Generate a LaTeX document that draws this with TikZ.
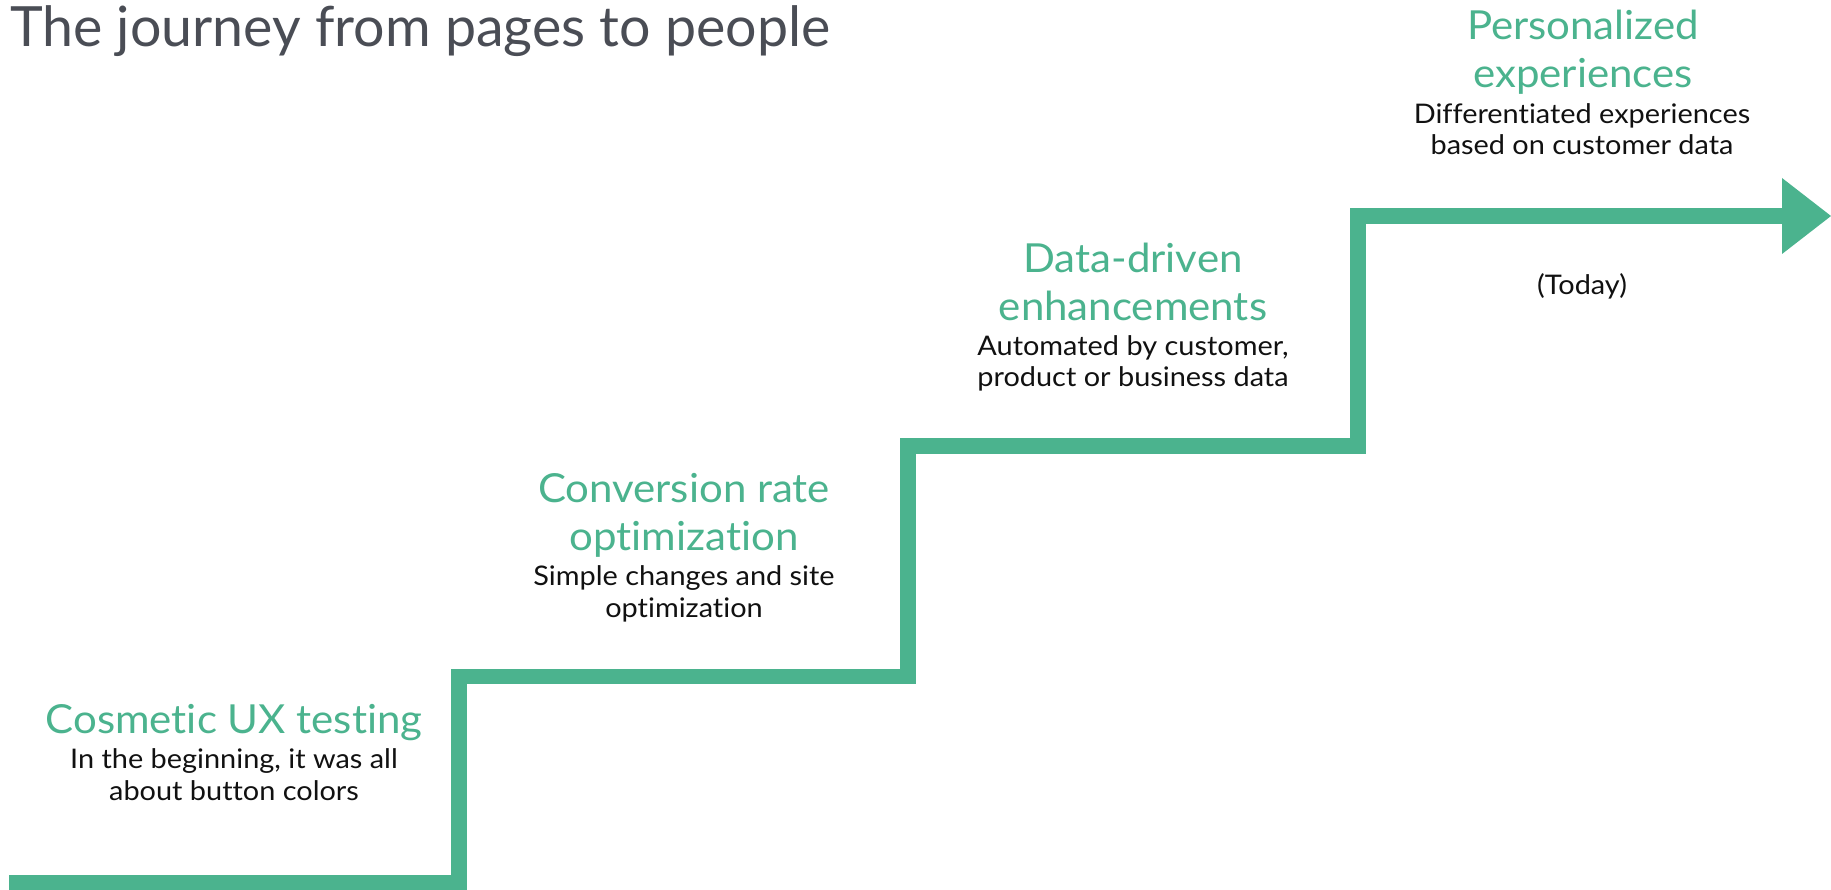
\documentclass[tikz,border=0pt]{standalone}
\usepackage{fontspec}
\setmainfont{Lato}[Ligatures={NoCommon,NoContextual}]
\newfontfamily\headfont{Lato}[FakeStretch=1.05,Ligatures={NoCommon,NoContextual}]
\newfontfamily\descfont{Lato}[FakeStretch=1.07,Ligatures={NoCommon,NoContextual}]
\definecolor{stairgreen}{RGB}{75,179,142}
\definecolor{titlegray}{RGB}{74,77,85}
\definecolor{ink}{RGB}{17,17,17}
\begin{document}
\begin{tikzpicture}[x=1pt,y=-1pt,
  heading/.style={text=stairgreen, font=\headfont\fontsize{40}{48}\selectfont, align=center, anchor=base, inner sep=0pt},
  desc/.style={text=ink, font=\descfont\fontsize{27}{31.5}\selectfont, align=center, anchor=base, inner sep=0pt},
  titletext/.style={text=titlegray, font=\fontsize{55.5}{60}\selectfont, anchor=base west, inner sep=0pt},
  stair/.style={draw=stairgreen, line width=15.5pt, line join=miter},
  tip/.style={fill=stairgreen, draw=none}]
\useasboundingbox (0,0) rectangle (1831,890);
\fill[white] (0,0) rectangle (1831,890);

\node[titletext] (title) at (10,47) {The journey from pages to people};

% staircase corners
\coordinate (s0) at (9,882.5);
\coordinate (c1) at (459,882.5);
\coordinate (c2) at (459,676.5);
\coordinate (c3) at (908,676.5);
\coordinate (c4) at (908,446);
\coordinate (c5) at (1358,446);
\coordinate (c6) at (1358,216);
\coordinate (c7) at (1783,216);
\draw[stair] (s0) -- (c1) -- (c2) -- (c3) -- (c4) -- (c5) -- (c6) -- (c7);
\fill[tip] (1782,178) -- (1831,216) -- (1782,254) -- cycle;

% anchor=base sits on the last line's baseline
\node[heading] (h1) at (234,733) {Cosmetic UX testing};
\node[desc] (d1) at (234,800) {In the beginning, it was all\\about button colors};

\node[heading] (h2) at (684,550) {Conversion rate\\optimization};
\node[desc] (d2) at (684,617) {Simple changes and site\\optimization};

\node[heading] (h3) at (1133,321) {Data-driven\\enhancements};
\node[desc] (d3) at (1133,387) {Automated by customer,\\product or business data};

\node[heading] (h4) at (1583,88) {Personalized\\experiences};
\node[desc] (d4) at (1582,155) {Differentiated experiences\\based on customer data};

\node[desc] (today) at (1582,295) {(Today)};
\end{tikzpicture}
\end{document}
